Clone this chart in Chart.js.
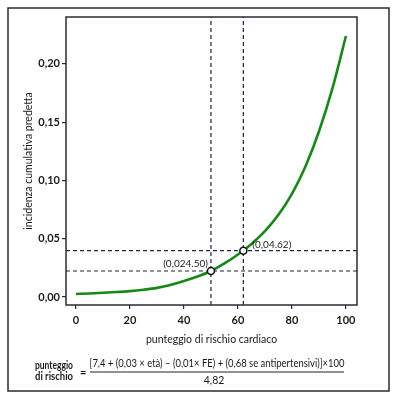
<!DOCTYPE html>
<html>
<head>
<meta charset="utf-8">
<script src="https://cdn.jsdelivr.net/npm/chart.js@4"></script>
<style>
html,body{margin:0;padding:0;background:#fff;}
#wrap{width:398px;height:404px;}
</style>
</head>
<body>
<div id="wrap"><canvas id="c" width="398" height="404"></canvas></div>
<script>
// ---- data ----
const scores    = [0, 5, 10, 15, 20, 25, 30, 35, 40, 45, 50, 55, 60, 65, 70, 75, 80, 85, 90, 95, 100];
const incidence = [0.0026, 0.003, 0.0036, 0.0042, 0.005, 0.0062, 0.0078, 0.0103, 0.0137, 0.0175, 0.0223, 0.0288, 0.0365, 0.0455, 0.0565, 0.0705, 0.0885, 0.112, 0.142, 0.179, 0.224];
const markScores    = [50, 62];
const markIncidence = [0.0223, 0.0397];
const markLabels    = ['(0,024.50)', '(0,04.62)'];
const xTickValues = [0, 20, 40, 60, 80, 100];
const yTickValues = [0, 0.05, 0.10, 0.15, 0.20];
const xTitle = 'punteggio di rischio cardiaco';
const yTitle = 'incidenza cumulativa predetta';
const formulaLeft = ['punteggio', 'di rischio'];
const formulaNum = '[7,4 + (0,03 \u00d7 et\u00e0) \u2013 (0,01\u00d7 FE) + (0,68 se antipertensivi)]\u00d7100';
const formulaDen = '4,82';

const X_MIN = -3.7, X_MAX = 104.1, Y_MIN = -0.0069, Y_MAX = 0.2403;
const FONT = 'Lato, "Open Sans", sans-serif';
const INK = '#2a2a35';
const DASH = '#1d2540';

const curve = scores.map((s, i) => ({x: s, y: incidence[i]}));
const marks = markScores.map((s, i) => ({x: s, y: markIncidence[i]}));

const refSets = [];
markScores.forEach(s => refSets.push({
  data: [{x: s, y: Y_MIN}, {x: s, y: Y_MAX}],
  showLine: true, borderColor: DASH, borderWidth: 1.2, borderDash: [4, 3],
  pointRadius: 0, order: 3
}));
markIncidence.forEach(v => refSets.push({
  data: [{x: X_MIN, y: v}, {x: X_MAX, y: v}],
  showLine: true, borderColor: DASH, borderWidth: 1.2, borderDash: [4, 3],
  pointRadius: 0, order: 3
}));

const decor = {
  id: 'decor',
  beforeDraw(chart) {
    const ctx = chart.ctx;
    ctx.save();
    ctx.fillStyle = '#fff';
    ctx.fillRect(0, 0, chart.width, chart.height);
    ctx.restore();
  },
  afterDraw(chart) {
    const ctx = chart.ctx;
    const a = chart.chartArea;
    const xs = chart.scales.x, ys = chart.scales.y;
    ctx.save();
    // plot box
    ctx.strokeStyle = INK;
    ctx.lineWidth = 1.5;
    ctx.strokeRect(a.left, a.top, a.right - a.left, a.bottom - a.top);
    // outer frame
    ctx.lineWidth = 1.5;
    ctx.strokeRect(8, 8, 381, 383);
    // point labels
    ctx.fillStyle = '#222';
    ctx.font = '10px ' + FONT;
    ctx.textBaseline = 'middle';
    markScores.forEach((s, i) => {
      const px = xs.getPixelForValue(s), py = ys.getPixelForValue(markIncidence[i]);
      if (i === 0) { ctx.textAlign = 'right'; ctx.fillText(markLabels[i], px - 3, py - 7); }
      else { ctx.textAlign = 'left'; ctx.fillText(markLabels[i], px + 9, py - 6); }
    });
    // formula
    ctx.fillStyle = '#1a1a1a';
    ctx.font = 'bold 11px ' + FONT;
    ctx.textAlign = 'left';
    ctx.fillText(formulaLeft[0], 35, 365, 38);
    ctx.fillText(formulaLeft[1], 35, 376, 38);
    ctx.font = 'bold 11px ' + FONT;
    ctx.fillText('=', 80, 372);
    ctx.font = '10.5px ' + FONT;
    ctx.textAlign = 'center';
    ctx.fillText(formulaNum, 217, 364, 255);
    ctx.fillText(formulaDen, 214, 381);
    ctx.strokeStyle = '#222';
    ctx.lineWidth = 1;
    ctx.beginPath();
    ctx.moveTo(90, 372); ctx.lineTo(344, 372);
    ctx.stroke();
    ctx.restore();
  }
};

new Chart(document.getElementById('c'), {
  type: 'scatter',
  data: {
    datasets: [
      {
        data: marks, showLine: false, pointRadius: 3.5, pointBorderWidth: 1.5,
        pointBackgroundColor: '#fff', pointBorderColor: '#111', order: 0
      },
      {
        data: curve, showLine: true, borderColor: '#138a13', borderWidth: 2.6,
        pointRadius: 0, cubicInterpolationMode: 'monotone', order: 1
      },
      ...refSets
    ]
  },
  options: {
    responsive: false,
    animation: false,
    devicePixelRatio: 1,
    layout: {padding: {left: 8, right: 41, top: 17, bottom: 54}},
    plugins: {legend: {display: false}, tooltip: {enabled: false}},
    scales: {
      x: {
        type: 'linear', min: X_MIN, max: X_MAX,
        afterFit(s) { s.height = 45; },
        afterBuildTicks(s) { s.ticks = xTickValues.map(v => ({value: v})); },
        grid: {display: true, drawOnChartArea: false, drawTicks: true, tickLength: 4, color: INK, lineWidth: 1.2},
        border: {display: false},
        ticks: {color: '#1a1a1a', padding: 5, font: {family: FONT, size: 11, weight: 'bold'}, maxRotation: 0,
                callback: v => String(v)},
        title: {display: true, text: xTitle, color: '#1a1a1a', font: {family: FONT, size: 10.5}, padding: {top: 0, bottom: 4}}
      },
      y: {
        type: 'linear', min: Y_MIN, max: Y_MAX,
        afterFit(s) { s.width = 58; },
        afterBuildTicks(s) { s.ticks = yTickValues.map(v => ({value: v})); },
        grid: {display: true, drawOnChartArea: false, drawTicks: true, tickLength: 4, color: INK, lineWidth: 1.2},
        border: {display: false},
        ticks: {color: '#1a1a1a', padding: 2, font: {family: FONT, size: 11, weight: 'bold'},
                callback: v => v.toFixed(2).replace('.', ',')},
        title: {display: true, text: yTitle, color: '#1a1a1a', font: {family: FONT, size: 10.5}, padding: {top: 14, bottom: 0}}
      }
    }
  },
  plugins: [decor]
});
</script>
</body>
</html>
